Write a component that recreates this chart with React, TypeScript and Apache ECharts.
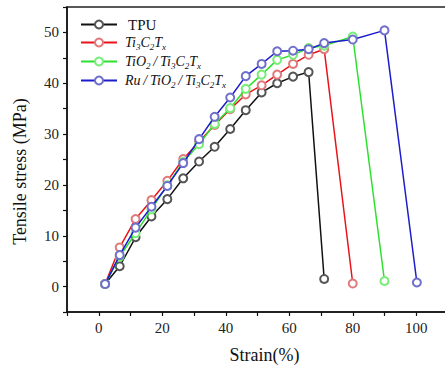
import React, { useEffect, useRef } from "react";
import * as echarts from "echarts";

const seriesNames = ["TPU", "Ti3C2Tx", "TiO2 / Ti3C2Tx", "Ru / TiO2 / Ti3C2Tx"];

const tpuStrain = [2, 6.6, 11.6, 16.6, 21.6, 26.6, 31.6, 36.5, 41.4, 46.3, 51.3, 56.2, 61.2, 66.1, 71];
const tpuStress = [0.5, 4.0, 9.7, 13.8, 17.2, 21.3, 24.6, 27.5, 31.0, 34.7, 38.2, 40.0, 41.3, 42.2, 1.5];

const ti3Strain = [2, 6.6, 11.6, 16.6, 21.6, 26.6, 31.6, 36.5, 41.4, 46.3, 51.3, 56.2, 61.2, 66.1, 71, 80];
const ti3Stress = [0.5, 7.7, 13.3, 17.0, 20.8, 25.1, 28.5, 31.8, 34.9, 37.8, 39.6, 41.7, 43.8, 45.6, 46.7, 0.6];

const tio2Strain = [2, 6.6, 11.6, 16.6, 21.6, 26.6, 31.6, 36.5, 41.4, 46.3, 51.3, 56.2, 61.2, 66.1, 71, 80, 90];
const tio2Stress = [0.5, 5.9, 10.5, 15.2, 19.9, 24.5, 28.0, 32.0, 35.1, 38.9, 41.7, 44.6, 45.6, 46.9, 47.4, 49.2, 1.1];

const ruStrain = [2, 6.6, 11.6, 16.6, 21.6, 26.6, 31.6, 36.5, 41.4, 46.3, 51.3, 56.2, 61.2, 66.1, 71, 80, 90, 100.2];
const ruStress = [0.5, 6.2, 11.6, 15.7, 19.8, 24.3, 29.0, 33.4, 37.2, 41.4, 43.8, 46.3, 46.4, 46.7, 47.9, 48.6, 50.4, 0.8];

const xTickLabels = [0, 20, 40, 60, 80, 100];
const yTickLabels = [0, 10, 20, 30, 40, 50];

const lineColors = ["#111111", "#e8141a", "#2ee02e", "#1c1ccc"];
const symbolColors = ["#555555", "#e07a7a", "#77ee77", "#7070cc"];

const sl = "\u2009/\u2009";
const legendRich: Record<string, string> = {
  "TPU": "{n|TPU}",
  "Ti3C2Tx": "{i|Ti}{s|3}{i|C}{s|2}{i|T}{s|x}",
  "TiO2 / Ti3C2Tx": `{i|TiO}{s|2}{i|${sl}Ti}{s|3}{i|C}{s|2}{i|T}{s|x}`,
  "Ru / TiO2 / Ti3C2Tx": `{i|Ru${sl}TiO}{s|2}{i|${sl}Ti}{s|3}{i|C}{s|2}{i|T}{s|x}`,
};

const zip = (xs: number[], ys: number[]) => xs.map((x, i) => [x, ys[i]]);

export default function App() {
  const ref = useRef<HTMLDivElement>(null);
  useEffect(() => {
    if (!ref.current) return;
    const chart = echarts.init(ref.current, null, { renderer: "svg" });
    const font = "'Liberation Serif', 'Times New Roman', serif";
    const datasets = [
      zip(tpuStrain, tpuStress),
      zip(ti3Strain, ti3Stress),
      zip(tio2Strain, tio2Stress),
      zip(ruStrain, ruStress),
    ];
    chart.setOption({
      animation: false,
      textStyle: { fontFamily: font },
      grid: {
        left: 67,
        top: 7,
        right: -3,
        bottom: 55,
        outerBoundsMode: "none",
        containLabel: false,
        show: true,
        borderColor: "#222",
        borderWidth: 1.5,
      },
      legend: {
        orient: "vertical",
        left: 75,
        top: 12,
        itemWidth: 36,
        itemHeight: 10,
        itemGap: 2,
        data: seriesNames,
        formatter: (name: string) => legendRich[name],
        textStyle: {
          fontFamily: font,
          padding: [0, 0, 0, 3],
          rich: {
            n: { fontFamily: font, fontSize: 15, lineHeight: 18, color: "#111", padding: [0, 0, 0, 3] },
            i: { fontFamily: font, fontSize: 14, lineHeight: 18, fontStyle: "italic", color: "#111" },
            s: { fontFamily: font, fontSize: 9, lineHeight: 10, fontStyle: "italic", color: "#111", padding: [8, 0, 0, 0] },
          },
        },
      },
      xAxis: {
        type: "value",
        min: -10,
        max: 110,
        interval: 10,
        name: "Strain(%)",
        nameLocation: "middle",
        nameGap: 34,
        nameTextStyle: { fontFamily: font, fontSize: 18, color: "#111", padding: [0, 0, 0, 14] },
        axisLine: { show: true, onZero: false, lineStyle: { color: "#111", width: 1.5 } },
        axisTick: { show: true, length: 4, lineStyle: { color: "#111", width: 1.2 } },
        splitLine: { show: false },
        axisLabel: {
          fontFamily: font,
          fontSize: 15,
          color: "#222",
          margin: 8,
          formatter: (v: number) => (xTickLabels.includes(v) ? String(v) : ""),
        },
      },
      yAxis: {
        type: "value",
        min: -5,
        max: 55,
        interval: 5,
        name: "Tensile stress (MPa)",
        nameLocation: "middle",
        nameGap: 38,
        nameTextStyle: { fontFamily: font, fontSize: 18, color: "#111", padding: [0, 24, 0, 0] },
        axisLine: { show: true, onZero: false, lineStyle: { color: "#111", width: 1.5 } },
        axisTick: { show: true, length: 4, lineStyle: { color: "#111", width: 1.2 } },
        splitLine: { show: false },
        axisLabel: {
          fontFamily: font,
          fontSize: 15,
          color: "#222",
          margin: 8,
          formatter: (v: number) => (yTickLabels.includes(v) ? String(v) : ""),
        },
      },
      series: seriesNames.map((name, i) => ({
        name,
        type: "line",
        data: datasets[i],
        symbol: "emptyCircle",
        symbolSize: 8,
        showSymbol: true,
        lineStyle: { color: lineColors[i], width: 1.5 },
        itemStyle: { color: symbolColors[i], borderColor: symbolColors[i], borderWidth: 1.2 },
        z: 2 + i,
      })),
    });
    return () => chart.dispose();
  }, []);
  return (
    <div
      ref={ref}
      style={{ position: "fixed", left: 0, top: 0, width: 445, height: 367, background: "#fff" }}
    />
  );
}
